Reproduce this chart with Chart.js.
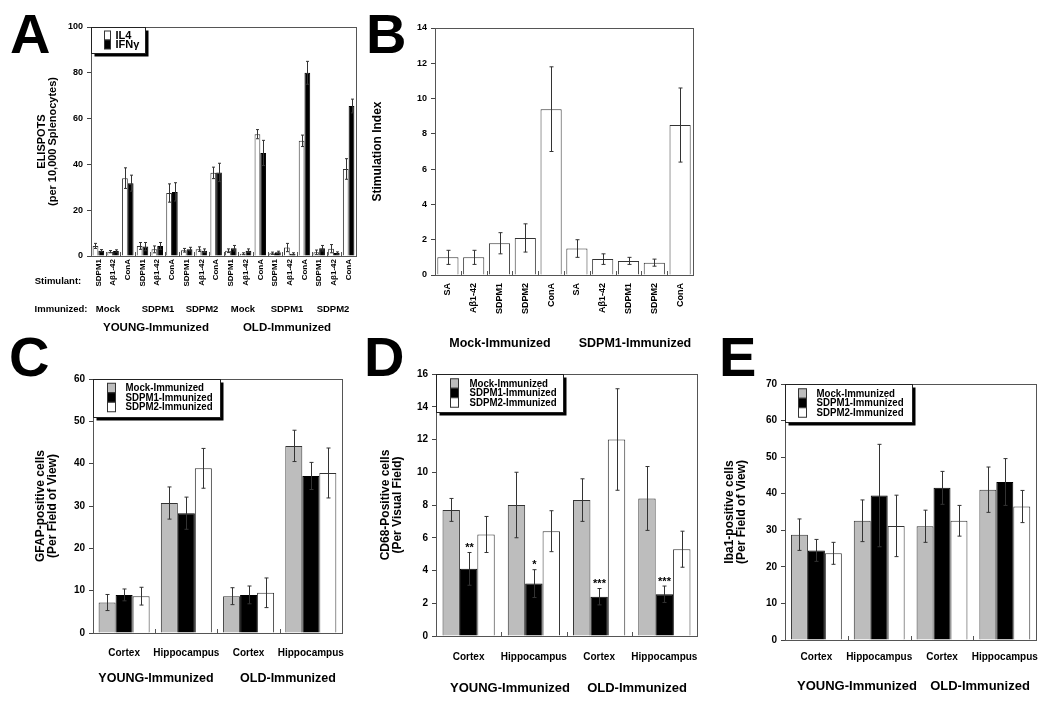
<!DOCTYPE html>
<html lang="en">
<head>
<meta charset="UTF-8">
<title>ELISPOT and glial cell counts</title>
<script src="https://cdn.jsdelivr.net/npm/chart.js"></script>
<style>
  body { margin:0; width:1050px; height:708px; position:relative; background:#fff; overflow:hidden;
         font-family:'Liberation Sans', Arial, sans-serif; font-weight:bold; color:#000; }
  .panel { position:absolute; }
  .lbl { position:absolute; transform:translate(-50%,-50%); white-space:nowrap; }
  .letter { position:absolute; font-size:56px; line-height:56px; }
</style>
</head>
<body>
<!-- panel letters -->
<div class="letter" style="left:10px;top:6px">A</div>
<div class="letter" style="left:366px;top:6px">B</div>
<div class="letter" style="left:9px;top:329px">C</div>
<div class="letter" style="left:364px;top:329px">D</div>
<div class="letter" style="left:719px;top:329px">E</div>

<div class="panel" style="left:0;top:0;width:370px;height:352px"><canvas id="chartA"></canvas></div>
<div class="panel" style="left:360px;top:0;width:350px;height:355px"><canvas id="chartB"></canvas></div>
<div class="panel" style="left:0;top:355px;width:360px;height:353px"><canvas id="chartC"></canvas></div>
<div class="panel" style="left:350px;top:355px;width:365px;height:353px"><canvas id="chartD"></canvas></div>
<div class="panel" style="left:710px;top:355px;width:340px;height:353px"><canvas id="chartE"></canvas></div>

<!-- panel A labels -->
<div class="lbl" style="left:58px;top:280px;font-size:9.5px">Stimulant:</div>
<div class="lbl" style="left:61px;top:308px;font-size:9.5px">Immunized:</div>
<div id="aGroupLabels"></div>
<div class="lbl" style="left:156px;top:327px;font-size:11.5px">YOUNG-Immunized</div>
<div class="lbl" style="left:287px;top:327px;font-size:11.5px">OLD-Immunized</div>
<!-- panel B labels -->
<div class="lbl" style="left:500px;top:343px;font-size:12.5px">Mock-Immunized</div>
<div class="lbl" style="left:635px;top:343px;font-size:12.5px">SDPM1-Immunized</div>
<!-- panel C/D/E labels -->
<div class="lbl" style="left:156px;top:678px;font-size:12.5px">YOUNG-Immunized</div>
<div class="lbl" style="left:288px;top:678px;font-size:12.5px">OLD-Immunized</div>
<div class="lbl" style="left:510px;top:687px;font-size:13px">YOUNG-Immunized</div>
<div class="lbl" style="left:637px;top:687px;font-size:13px">OLD-Immunized</div>
<div class="lbl" style="left:857px;top:685px;font-size:13px">YOUNG-Immunized</div>
<div class="lbl" style="left:980px;top:685px;font-size:13px">OLD-Immunized</div>

<script>
// ---- Panel A: ELISPOTS ----
const aStimulants = ['SDPM1','Aβ1-42','ConA','SDPM1','Aβ1-42','ConA','SDPM1','Aβ1-42','ConA',
                     'SDPM1','Aβ1-42','ConA','SDPM1','Aβ1-42','ConA','SDPM1','Aβ1-42','ConA'];
const aGroups = ['Mock','SDPM1','SDPM2','Mock','SDPM1','SDPM2'];
const aIL4    = [4.4, 1.9, 34,   4.4, 2.9, 27.5, 2.5, 3.0, 36.3, 2.3, 1.0, 53.2, 1.2, 3.7, 50.3, 1.6, 3.2, 38];
const aIL4Err = [1.1, 0.5, 4.5,  1.5, 1.5, 4,    0.8, 1.0, 2.5,  0.8, 0.4, 2.0,  0.5, 1.8, 2.5,  1.0, 1.8, 4.5];
const aIFN    = [2.3, 2.2, 31.8, 4.1, 4.4, 28,   3.0, 2.3, 36.5, 3.4, 2.3, 45,   1.6, 1.0, 80,   3.4, 1.3, 65.5];
const aIFNErr = [0.5, 0.5, 3.5,  1.8, 1.5, 4,    0.8, 0.8, 4,    1.2, 0.8, 5.5,  0.5, 0.4, 5,    1.2, 0.5, 3];

// ---- Panel B: stimulation index ----
const bStimulants = ['SA','Aβ1-42','SDPM1','SDPM2','ConA','SA','Aβ1-42','SDPM1','SDPM2','ConA'];
const bIndex = [1.0, 1.0, 1.8, 2.1, 9.4, 1.5, 0.9, 0.8, 0.7, 8.5];
const bErr   = [0.4, 0.4, 0.6, 0.8, 2.4, 0.5, 0.3, 0.2, 0.2, 2.1];

// ---- Panels C-E: brain regions ----
const regions = ['Cortex','Hippocampus','Cortex','Hippocampus'];
const gfapMock = [7.2, 30.7, 8.7, 44.2],  gfapMockErr = [1.9, 3.8, 2.0, 3.7];
const gfapS1   = [9.0, 28.3, 9.0, 37.1],  gfapS1Err   = [1.4, 3.8, 2.1, 3.2];
const gfapS2   = [8.7, 38.9, 9.5, 37.8],  gfapS2Err   = [2.1, 4.7, 3.5, 5.9];

const cd68Mock = [7.7, 8.0, 8.3, 8.4],    cd68MockErr = [0.7, 2.0, 1.3, 1.95];
const cd68S1   = [4.1, 3.2, 2.4, 2.55],   cd68S1Err   = [1.0, 0.85, 0.5, 0.5];
const cd68S2   = [6.2, 6.4, 12.0, 5.3],   cd68S2Err   = [1.1, 1.25, 3.1, 1.1];
const cd68Stars = ['**', '*', '***', '***'];

const ibaMock = [28.8, 32.6, 31.1, 41.1], ibaMockErr = [4.3, 5.7, 4.4, 6.2];
const ibaS1   = [24.5, 39.5, 41.6, 43.2], ibaS1Err   = [3.0, 14, 4.5, 6.4];
const ibaS2   = [23.7, 31.2, 32.6, 36.5], ibaS2Err   = [3.0, 8.4, 4.2, 4.4];

const FONT = "'Liberation Sans', Arial, sans-serif";
Chart.defaults.font.family = FONT;
Chart.defaults.font.weight = 'bold';
Chart.defaults.color = '#000';

const GRAY = '#bdbdbd', BLACK = '#000', WHITE = '#fff', EDGE = '#333';

// group labels under panel A
const aGroupX = [108, 158, 202, 243, 287, 333];
aGroups.forEach((g, i) => {
  const d = document.createElement('div');
  d.className = 'lbl';
  d.style.cssText = `left:${aGroupX[i]}px;top:308px;font-size:9.5px`;
  d.textContent = g;
  document.body.appendChild(d);
});

// error bars (and significance stars) from dataset.errors / dataset.stars
const errBars = {
  id: 'errBars',
  afterDatasetsDraw(chart) {
    const ctx = chart.ctx, y = chart.scales.y;
    const cap = chart.options.plugins.frame.cap || 2;
    chart.data.datasets.forEach((ds, i) => {
      if (!ds.errors) return;
      chart.getDatasetMeta(i).data.forEach((bar, j) => {
        const v = ds.data[j], e = ds.errors[j];
        const top = y.getPixelForValue(v + e), bot = y.getPixelForValue(Math.max(v - e, 0));
        const x = Math.round(bar.x) + 0.5;
        ctx.save();
        ctx.strokeStyle = EDGE; ctx.lineWidth = 1;
        ctx.beginPath();
        ctx.moveTo(x, top); ctx.lineTo(x, bot);
        ctx.moveTo(x - cap, top); ctx.lineTo(x + cap, top);
        ctx.moveTo(x - cap, bot); ctx.lineTo(x + cap, bot);
        ctx.stroke();
        if (ds.stars) {
          ctx.fillStyle = '#000';
          ctx.font = 'bold 11px ' + FONT;
          ctx.textAlign = 'center'; ctx.textBaseline = 'bottom';
          ctx.fillText(ds.stars[j], x, top + 1);
        }
        ctx.restore();
      });
    });
  }
};

// plot frame, inner ticks and boxed legend
const frame = {
  id: 'frame',
  afterDraw(chart, args, opts) {
    const {ctx, chartArea: a} = chart;
    const x = chart.scales.x;
    ctx.save();
    ctx.strokeStyle = '#555'; ctx.lineWidth = 1;
    const n = chart.data.labels.length;
    for (let i = 1; i < n; i++) {
      const px = Math.round((x.getPixelForValue(i - 1) + x.getPixelForValue(i)) / 2) + 0.5;
      ctx.beginPath(); ctx.moveTo(px, a.bottom); ctx.lineTo(px, a.bottom - 4); ctx.stroke();
    }
    ctx.strokeRect(Math.round(a.left) + 0.5, Math.round(a.top) + 0.5,
                   Math.round(a.right - a.left), Math.round(a.bottom - a.top));
    const L = opts.legend;
    if (L) {
      const lx = Math.round(a.left) + 0.5, ly = Math.round(a.top) + 0.5;
      ctx.fillStyle = '#000';
      ctx.fillRect(lx + 3, ly + 3, L.w, L.h);
      ctx.fillStyle = '#fff';
      ctx.fillRect(lx, ly, L.w, L.h);
      ctx.strokeStyle = '#222';
      ctx.strokeRect(lx, ly, L.w, L.h);
      ctx.font = 'bold ' + L.font + 'px ' + FONT;
      ctx.textAlign = 'left'; ctx.textBaseline = 'middle';
      chart.data.datasets.forEach((ds, i) => {
        const cy = ly + L.row0 + i * L.step;
        ctx.fillStyle = ds.backgroundColor;
        ctx.fillRect(lx + L.sq, cy - L.step / 2, L.sqW, L.step);
        ctx.strokeStyle = EDGE;
        ctx.strokeRect(lx + L.sq, cy - L.step / 2, L.sqW, L.step);
        ctx.fillStyle = '#000';
        // the legend face in the figure is a narrow one
        ctx.save();
        ctx.translate(lx + L.tx, cy);
        ctx.scale(L.sx || 1, 1);
        ctx.fillText(ds.label, 0, 0);
        ctx.restore();
      });
    }
    ctx.restore();
  }
};

function barPanel(id, o) {
  return new Chart(document.getElementById(id), {
    type: 'bar',
    data: { labels: o.labels, datasets: o.datasets },
    options: {
      responsive: true, maintainAspectRatio: false, animation: false,
      layout: { padding: o.pad },
      datasets: { bar: { categoryPercentage: o.cat, barPercentage: 1, borderWidth: 1, borderColor: EDGE } },
      plugins: { legend: { display: false }, tooltip: { enabled: false }, frame: o.frame },
      scales: {
        x: {
          grid: { display: false, drawTicks: false }, border: { display: false },
          ticks: { font: { size: o.xFont, weight: 'bold' }, color: '#000', padding: o.xPad,
                   autoSkip: false, minRotation: o.rot, maxRotation: o.rot },
          afterFit: s => { s.height = o.xH; }
        },
        y: {
          min: 0, max: o.max,
          ticks: { stepSize: o.step, font: { size: o.yFont, weight: 'bold' }, color: '#000', padding: 4 },
          grid: { drawOnChartArea: false, tickLength: 4, color: '#444' },
          border: { display: false },
          title: { display: true, text: o.yTitle, color: '#000',
                   font: { size: o.tFont, weight: 'bold', lineHeight: 1.05 }, padding: { top: 0, bottom: 0 } },
          afterFit: s => { s.width = o.yW; }
        }
      }
    },
    plugins: [errBars, frame]
  });
}

const bar = (label, color, data, errors, extra) =>
  Object.assign({ label, data, errors, backgroundColor: color, borderColor: color === BLACK ? BLACK : EDGE }, extra || {});

barPanel('chartA', {
  labels: aStimulants,
  datasets: [bar('IL4', WHITE, aIL4, aIL4Err), bar('IFNγ', BLACK, aIFN, aIFNErr)],
  pad: { left: 36, top: 27, right: 14, bottom: 0 }, yW: 55, xH: 96,
  cat: 0.78, rot: 90, xFont: 8, xPad: 3, max: 100, step: 20, yFont: 9,
  yTitle: ['ELISPOTS', '(per 10,000 Splenocytes)'], tFont: 11,
  frame: { cap: 1.5, legend: { w: 54, h: 26, sq: 13, sqW: 6, tx: 24, row0: 8, step: 9, font: 11 } }
});

barPanel('chartB', {
  labels: bStimulants,
  datasets: [bar('Stimulation Index', WHITE, bIndex, bErr)],
  pad: { left: 11, top: 28, right: 17, bottom: 0 }, yW: 64, xH: 80,
  cat: 0.82, rot: 90, xFont: 9, xPad: 8, max: 14, step: 2, yFont: 9,
  yTitle: 'Stimulation Index', tFont: 12,
  frame: { cap: 2 }
});

const regionLegend = (sq, tx, row0) => ({ w: 127, h: 38, sq, sqW: 8, tx, row0, step: 9.5, font: 11, sx: 0.88 });

barPanel('chartC', {
  labels: regions,
  datasets: [bar('Mock-Immunized', GRAY, gfapMock, gfapMockErr),
             bar('SDPM1-Immunized', BLACK, gfapS1, gfapS1Err),
             bar('SDPM2-Immunized', WHITE, gfapS2, gfapS2Err)],
  pad: { left: 34, top: 24, right: 17, bottom: 0 }, yW: 59, xH: 75,
  cat: 0.82, rot: 0, xFont: 10, xPad: 14, max: 60, step: 10, yFont: 10,
  yTitle: ['GFAP-positive cells', '(Per Field of View)'], tFont: 12,
  frame: { cap: 2, legend: regionLegend(14, 32, 8.5) }
});

barPanel('chartD', {
  labels: regions,
  datasets: [bar('Mock-Immunized', GRAY, cd68Mock, cd68MockErr),
             bar('SDPM1-Immunized', BLACK, cd68S1, cd68S1Err, { stars: cd68Stars }),
             bar('SDPM2-Immunized', WHITE, cd68S2, cd68S2Err)],
  pad: { left: 29, top: 19, right: 18, bottom: 0 }, yW: 57, xH: 72,
  cat: 0.80, rot: 0, xFont: 10, xPad: 15, max: 16, step: 2, yFont: 10,
  yTitle: ['CD68-Positive cells', '(Per Visual Field)'], tFont: 12,
  frame: { cap: 2, legend: regionLegend(14, 33, 9) }
});

barPanel('chartE', {
  labels: regions,
  datasets: [bar('Mock-Immunized', GRAY, ibaMock, ibaMockErr),
             bar('SDPM1-Immunized', BLACK, ibaS1, ibaS1Err),
             bar('SDPM2-Immunized', WHITE, ibaS2, ibaS2Err)],
  pad: { left: 13, top: 29, right: 9, bottom: 0 }, yW: 62, xH: 68,
  cat: 0.81, rot: 0, xFont: 10, xPad: 11, max: 70, step: 10, yFont: 10,
  yTitle: ['Iba1-positive cells', '(Per Field of View)'], tFont: 12,
  frame: { cap: 2, legend: regionLegend(13, 31, 9) }
});
</script>
</body>
</html>
